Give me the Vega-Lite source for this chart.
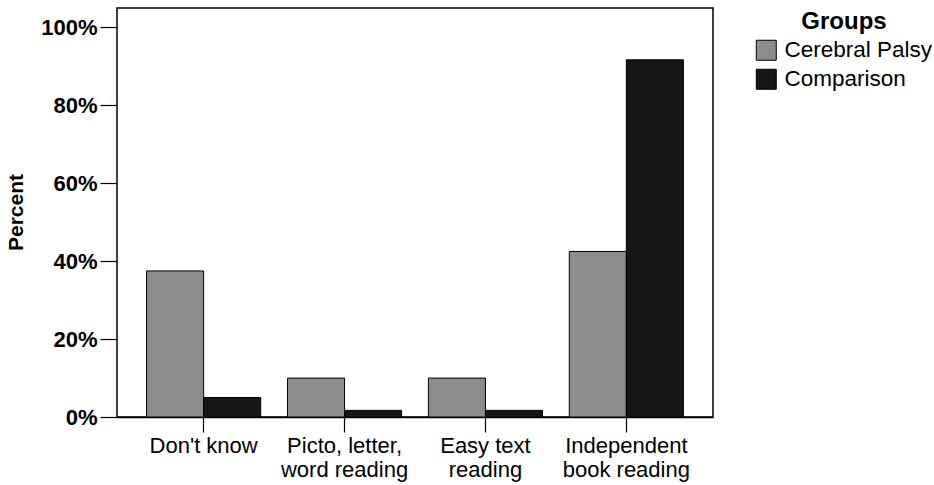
{
  "$schema": "https://vega.github.io/schema/vega-lite/v6.json",
  "width": 596,
  "height": 409,
  "autosize": {"type": "none"},
  "padding": {"left": 117, "top": 8, "right": 221, "bottom": 68},
  "background": "white",
  "config": {
    "font": "Liberation Sans",
    "view": {"stroke": "black", "strokeWidth": 1.5}
  },
  "data": {
    "values": [
      {"category": "Don't know", "group": "Cerebral Palsy", "percent": 37.5},
      {"category": "Don't know", "group": "Comparison", "percent": 5.0},
      {"category": "Picto, letter, word reading", "group": "Cerebral Palsy", "percent": 10.0},
      {"category": "Picto, letter, word reading", "group": "Comparison", "percent": 1.7},
      {"category": "Easy text reading", "group": "Cerebral Palsy", "percent": 10.0},
      {"category": "Easy text reading", "group": "Comparison", "percent": 1.7},
      {"category": "Independent book reading", "group": "Cerebral Palsy", "percent": 42.5},
      {"category": "Independent book reading", "group": "Comparison", "percent": 91.7}
    ]
  },
  "mark": {"type": "bar", "stroke": "black", "strokeWidth": 1},
  "encoding": {
    "x": {
      "field": "category",
      "type": "nominal",
      "sort": ["Don't know", "Picto, letter, word reading", "Easy text reading", "Independent book reading"],
      "scale": {"paddingInner": 0.19, "paddingOuter": 0.21},
      "axis": {
        "title": null,
        "labelAngle": 0,
        "labelFontSize": 22,
        "labelColor": "black",
        "labelPadding": 3,
        "labelLineHeight": 24,
        "tickSize": 15,
        "tickColor": "black",
        "tickWidth": 1.2,
        "domainColor": "black",
        "domainWidth": 1.5,
        "labelExpr": "datum.value == 'Picto, letter, word reading' ? ['Picto, letter,', 'word reading'] : datum.value == 'Easy text reading' ? ['Easy text', 'reading'] : datum.value == 'Independent book reading' ? ['Independent', 'book reading'] : datum.value"
      }
    },
    "xOffset": {
      "field": "group",
      "sort": ["Cerebral Palsy", "Comparison"],
      "scale": {"paddingInner": 0, "paddingOuter": 0}
    },
    "y": {
      "field": "percent",
      "type": "quantitative",
      "scale": {"domain": [0, 105], "nice": false},
      "axis": {
        "values": [0, 20, 40, 60, 80, 100],
        "labelExpr": "datum.value + '%'",
        "labelFontSize": 22,
        "labelFontWeight": "bold",
        "labelColor": "black",
        "labelPadding": 3,
        "tickSize": 17,
        "tickColor": "black",
        "tickWidth": 1.2,
        "domain": false,
        "grid": false,
        "title": "Percent",
        "titleFontSize": 21,
        "titleFontWeight": "bold",
        "titleColor": "black",
        "titleX": -101,
        "titleY": 204,
        "titleAngle": -90,
        "titleBaseline": "middle",
        "titleAlign": "center"
      }
    },
    "fill": {
      "field": "group",
      "type": "nominal",
      "scale": {"domain": ["Cerebral Palsy", "Comparison"], "range": ["#8c8c8c", "#161616"]},
      "legend": {
        "orient": "none",
        "legendX": 638,
        "legendY": 2,
        "title": "Groups",
        "titleFontSize": 24,
        "titleFontWeight": "bold",
        "titleColor": "black",
        "titleAnchor": "middle",
        "titlePadding": 5,
        "labelFontSize": 22.5,
        "labelColor": "black",
        "labelOffset": 7,
        "symbolType": "square",
        "symbolSize": 400,
        "symbolStrokeColor": "black",
        "symbolStrokeWidth": 1,
        "rowPadding": 4
      }
    }
  }
}
